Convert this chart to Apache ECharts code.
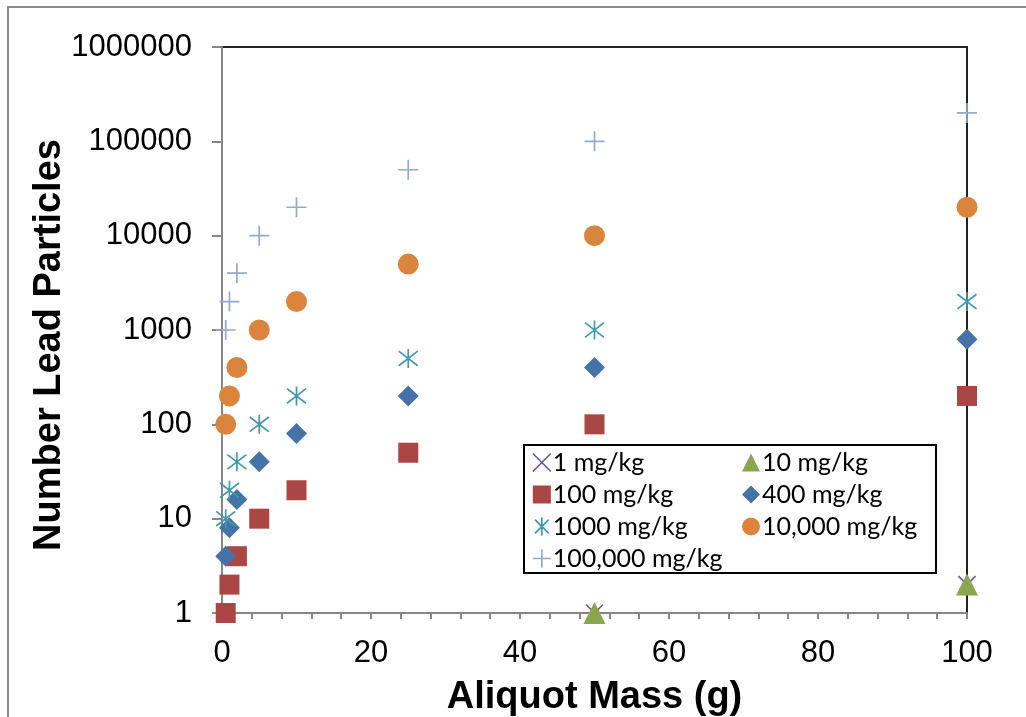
<!DOCTYPE html>
<html>
<head>
<meta charset="utf-8">
<script src="https://cdn.jsdelivr.net/npm/echarts@6/dist/echarts.min.js"></script>
<style>html,body{margin:0;padding:0;background:#fff}#c{width:1026px;height:717px}</style>
</head>
<body>
<div id="c"></div>
<script>
// Aliquot masses (g)
const masses = [0.5, 1, 2, 5, 10, 25, 50, 100];
// Number of lead particles per concentration series
const s1 = [[50, 1], [100, 2]];               // 1 mg/kg (visible points)
const s10 = [[50, 1], [100, 2]];              // 10 mg/kg (visible points)
const s100 = [1, 2, 4, 10, 20, 50, 100, 200];
const s400 = [4, 8, 16, 40, 80, 200, 400, 800];
const s1000 = [10, 20, 40, 100, 200, 500, 1000, 2000];
const s10000 = [100, 200, 400, 1000, 2000, 5000, 10000, 20000];
const s100000 = [1000, 2000, 4000, 10000, 20000, 50000, 100000, 200000];
const names = ['1 mg/kg', '10 mg/kg', '100 mg/kg', '400 mg/kg', '1000 mg/kg', '10,000 mg/kg', '100,000 mg/kg'];
const legendCol1 = ['1 mg/kg', '100 mg/kg', '1000 mg/kg', '100,000 mg/kg'];
const legendCol2 = ['10 mg/kg', '400 mg/kg', '10,000 mg/kg'];
const xTitle = 'Aliquot Mass (g)';
const yTitle = 'Number Lead Particles';

const pair = arr => masses.map((m, i) => [m, arr[i]]);

const CROSS = 'path://M0,0L10,10M10,0L0,10';
const STAR = 'path://M0,0L10,10M10,0L0,10M5,-1.5L5,11.5';
const PLUS = 'path://M0,5L12,5M6,-1L6,11';

const styles = {
  '1 mg/kg': {symbol: CROSS, size: 17, color: '#71588F', stroke: true},
  '10 mg/kg': {symbol: 'triangle', size: 22, color: '#89A54E'},
  '100 mg/kg': {symbol: 'rect', size: 20, color: '#AA4643'},
  '400 mg/kg': {symbol: 'diamond', size: 21, color: '#4572A7'},
  '1000 mg/kg': {symbol: STAR, size: 19, color: '#4198AF', stroke: true},
  '10,000 mg/kg': {symbol: 'circle', size: 21, color: '#DB843D'},
  '100,000 mg/kg': {symbol: PLUS, size: 20, color: '#93A9CF', stroke: true}
};
const dataBy = {
  '1 mg/kg': s1, '10 mg/kg': s10, '100 mg/kg': pair(s100), '400 mg/kg': pair(s400),
  '1000 mg/kg': pair(s1000), '10,000 mg/kg': pair(s10000), '100,000 mg/kg': pair(s100000)
};

function itemStyleOf(n) {
  const s = styles[n];
  return s.stroke ? {color: 'rgba(0,0,0,0)', borderColor: s.color, borderWidth: 1.7, opacity: 1}
                  : {color: s.color, borderWidth: 0, opacity: 1};
}

const series = names.map(n => ({
  name: n, type: 'scatter', data: dataBy[n], symbol: styles[n].symbol,
  symbolSize: styles[n].size, itemStyle: itemStyleOf(n), clip: false,
  emphasis: {disabled: true}
}));

function legendItems(list) {
  return list.map(n => ({name: n, icon: styles[n].symbol, itemStyle: itemStyleOf(n)}));
}
const legendCommon = {
  orient: 'vertical', itemWidth: 18, itemHeight: 18, itemGap: 7,
  textStyle: {fontFamily: 'Lato, "Open Sans", sans-serif', fontSize: 25, color: '#000', padding: [0, 0, 0, -3]},
  selectedMode: false
};

const FONT = '"Liberation Sans", Arial, sans-serif';
const chart = echarts.init(document.getElementById('c'), null, {renderer: 'canvas'});
chart.setOption({
  animation: false,
  backgroundColor: '#fff',
  graphic: [
    {type: 'rect', shape: {x: 8, y: 7, width: 1200, height: 900}, style: {fill: 'none', stroke: '#8a8a8a', lineWidth: 2}, z: 0},
    {type: 'rect', shape: {x: 524, y: 445, width: 412, height: 128}, style: {fill: '#fff', stroke: '#000', lineWidth: 2}, z: 5},
    {type: 'text', x: 50, y: 345, rotation: Math.PI / 2,
     style: {text: yTitle, fontFamily: FONT, fontWeight: 'bold', fontSize: 38, fill: '#000', align: 'center', verticalAlign: 'middle'}}
  ],
  grid: {left: 222, right: 59, top: 47, bottom: 104, containLabel: false, outerBoundsMode: 'none',
         show: true, borderColor: '#222', borderWidth: 2, backgroundColor: 'rgba(0,0,0,0)'},
  xAxis: {
    type: 'value', min: 0, max: 100, interval: 20,
    name: xTitle, nameLocation: 'middle', nameGap: 66,
    nameTextStyle: {fontFamily: FONT, fontWeight: 'bold', fontSize: 38, color: '#000'},
    axisLine: {lineStyle: {color: '#868686', width: 2}},
    axisTick: {show: true, length: 6, lineStyle: {color: '#868686', width: 2}},
    minorTick: {show: true, splitNumber: 5, length: 6, lineStyle: {color: '#868686', width: 2}},
    axisLabel: {fontFamily: FONT, fontSize: 31, color: '#000', margin: 25},
    splitLine: {show: false}
  },
  yAxis: {
    type: 'log', logBase: 10, min: 1, max: 1000000,
    axisLine: {show: true, lineStyle: {color: '#868686', width: 2}},
    axisTick: {show: true, length: 10, lineStyle: {color: '#868686', width: 2}},
    axisLabel: {fontFamily: FONT, fontSize: 31, color: '#000', margin: 30, formatter: v => String(Math.round(v))},
    splitLine: {show: false}
  },
  legend: [
    Object.assign({}, legendCommon, {left: 527, top: 445, data: legendItems(legendCol1), z: 10}),
    Object.assign({}, legendCommon, {left: 737, top: 445, data: legendItems(legendCol2), z: 10})
  ],
  series: series
});
</script>
</body>
</html>
